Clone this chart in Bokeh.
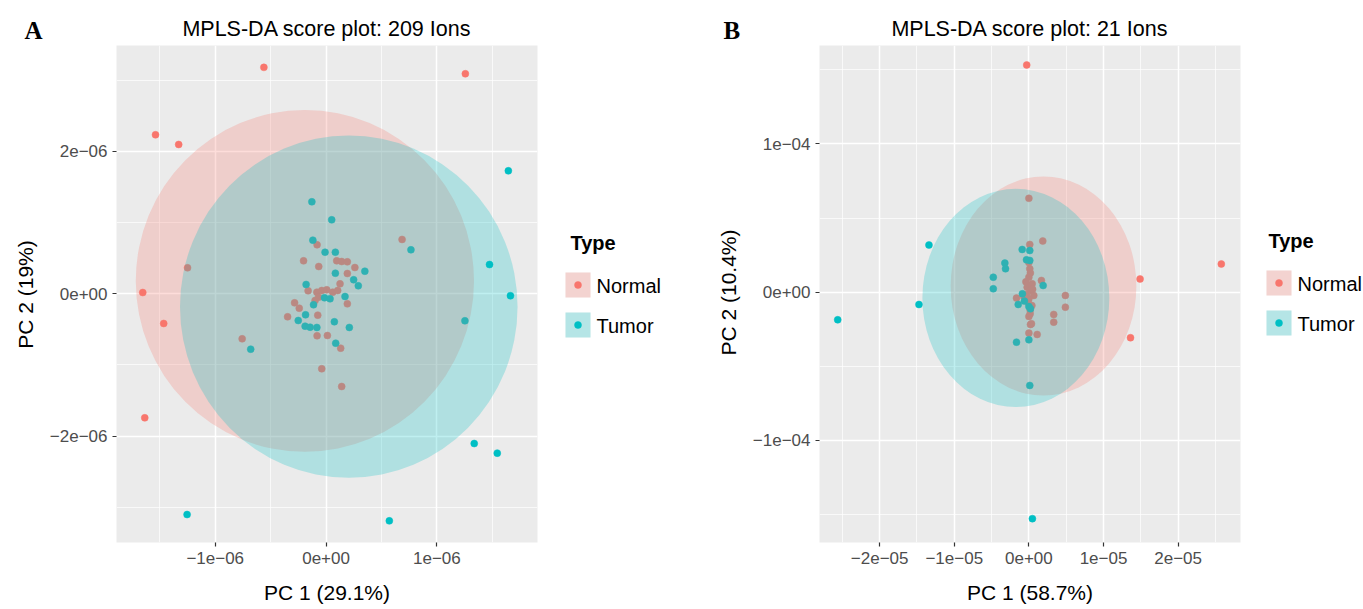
import math
from bokeh.plotting import figure
from bokeh.layouts import row
from bokeh.models import Range1d, FixedTicker, CustomJSTickFormatter
from bokeh.core.properties import value
from bokeh.embed import file_html
from bokeh.resources import INLINE

TYPES = ["Normal", "Tumor"]
COLORS = ["#F8766D", "#00BFC4"]

# ---------------- Panel A (values in units of 1e-6) ----------------
A_UNIT = 1e-6
A_NORMAL_X = [-0.561, 1.257, -1.539, -1.330, -1.250, -1.654, 0.686, -1.465, -1.636, -0.757, -0.039, 0.141,
              -0.081, -0.203, -0.066, 0.096, 0.141, 0.192, 0.260, 0.192, 0.126, -0.162, -0.083, -0.039,
              0.006, 0.060, 0.105, -0.068, -0.099, 0.192, -0.284, -0.242, -0.347, -0.075, -0.081, 0.012, 0.132]
A_NORMAL_Y = [3.18, 3.09, 2.233, 2.097, 0.365, 0.018, 0.763, -0.417, -1.742, -0.632, -1.053, -1.302,
              0.688, 0.463, 0.383, 0.463, 0.453, 0.449, 0.369, 0.285, 0.140, 0.042, 0.023, 0.046,
              0.056, 0.023, 0.046, -0.047, -0.094, -0.141, -0.127, -0.202, -0.323, -0.300, -0.590, -0.586, -0.764]
A_TUMOR_X = [1.645, 1.475, 1.664, -0.128, 0.051, 0.766, 1.253, 1.337, 1.545, -1.254, 0.571, -0.680,
             -0.119, -0.009, 0.084, 0.084, 0.350, 0.249, 0.291, -0.180, 0.171, 0.036, -0.014, -0.113,
             -0.185, -0.251, -0.189, -0.144, -0.083, 0.075, 0.210, 0.087]
A_TUMOR_Y = [1.727, 0.411, -0.028, 1.292, 1.039, 0.618, -0.379, -2.103, -2.238, -3.100, -3.189, -0.778,
             0.753, 0.584, 0.584, 0.289, 0.317, 0.197, 0.112, 0.131, -0.038, -0.070, -0.056, -0.154,
             -0.295, -0.375, -0.455, -0.469, -0.473, -0.393, -0.473, -0.694]
A_ELL_CX = [-0.191, 0.205]
A_ELL_CY = [0.18, -0.181]
A_ELL_W = [3.052, 3.046]
A_ELL_H = [4.80, 4.808]
A_X_TICKS = [-1e-6, 0.0, 1e-6]
A_X_TICK_LABELS = ["\u22121e\u221206", "0e+00", "1e\u221206"]
A_X_MINOR = [-1.5e-6, -0.5e-6, 0.5e-6, 1.5e-6]
A_Y_TICKS = [-2e-6, 0.0, 2e-6]
A_Y_TICK_LABELS = ["\u22122e\u221206", "0e+00", "2e\u221206"]
A_Y_MINOR = [-3e-6, -1e-6, 1e-6, 3e-6]

# ---------------- Panel B (x in units of 1e-5, y in units of 1e-4) ----------------
B_XUNIT = 1e-5
B_YUNIT = 1e-4
B_NORMAL_X = [-0.029, 0.0, 2.579, 1.49, 0.186, 0.012, 1.362, 0.489, 0.489, 0.333, 0.333, -0.166,
              0.168, 0.012, 0.0, 0.044, -0.023, 0.021, -0.032, 0.066, 0.0, -0.068, 0.0, 0.021,
              0.0, 0.111, 0.035, 0.017, 0.017, 0.0, 0.02, -0.04, 0.05, -0.01, 0.04]
B_NORMAL_Y = [1.532, 0.633, 0.190, 0.089, 0.345, 0.322, -0.307, -0.022, -0.101, -0.150, -0.202, -0.040,
              0.079, 0.158, 0.101, 0.057, 0.034, 0.011, -0.016, -0.022, -0.045, -0.029, -0.164, -0.218,
              -0.276, -0.285, -0.213, -0.146, -0.12, 0.20, 0.13, 0.07, 0.02, -0.07, -0.09]
B_TUMOR_X = [-1.339, -0.090, 0.012, -0.032, 0.012, -0.322, -0.313, -0.477, -0.477, 0.191, -2.562,
             -1.473, -0.143, 0.0, 0.021, -0.166, 0.0, 0.012, 0.047, -0.087, -0.06]
B_TUMOR_Y = [0.318, 0.288, 0.281, 0.218, 0.214, 0.196, 0.158, 0.101, 0.023, 0.045, -0.186,
             -0.083, -0.083, -0.096, -0.112, -0.337, -0.321, -0.629, -1.527, -0.011, -0.06]
B_ELL_CX = [0.196, -0.1745]
B_ELL_CY = [0.0415, -0.039]
B_ELL_W = [2.488, 2.505]
B_ELL_H = [1.477, 1.472]
B_X_TICKS = [-2e-5, -1e-5, 0.0, 1e-5, 2e-5]
B_X_TICK_LABELS = ["\u22122e\u221205", "\u22121e\u221205", "0e+00", "1e\u221205", "2e\u221205"]
B_X_MINOR = [-2.5e-5, -1.5e-5, -0.5e-5, 0.5e-5, 1.5e-5, 2.5e-5]
B_Y_TICKS = [-1e-4, 0.0, 1e-4]
B_Y_TICK_LABELS = ["\u22121e\u221204", "0e+00", "1e\u221204"]
B_Y_MINOR = [-1.5e-4, -0.5e-4, 0.5e-4, 1.5e-4]

H = 609
TOP, BOTTOM = 45, 67          # common frame borders (frames of a row are aligned)
FONT = "Liberation Sans"

FMT_CODE = """
let m = 0;
for (let i = 0; i < tvals.length; i++) { m = Math.max(m, Math.abs(tvals[i])); }
for (let i = 0; i < tvals.length; i++) {
  if (Math.abs(tick - tvals[i]) <= 1e-9 * m) return tlabs[i];
}
return "";
"""


def make_panel(title, xlabel, series, ell, xr, yr, xt, xtl, xm, yt, ytl, ym, width, bl, br):
    p = figure(width=width, height=H, x_range=Range1d(*xr), y_range=Range1d(*yr),
               output_backend="svg", toolbar_location=None,
               min_border_left=bl, min_border_right=br, min_border_top=TOP, min_border_bottom=BOTTOM)
    p.background_fill_color = "#EBEBEB"
    p.border_fill_color = "white"
    p.outline_line_color = None

    for i, (xs, ys) in enumerate(series):
        p.scatter(xs, ys, size=7, fill_color=COLORS[i], line_color=COLORS[i], line_width=0.5)
    cx, cy, w, h = ell
    for i in range(len(TYPES)):
        p.ellipse(x=[cx[i]], y=[cy[i]], width=[w[i]], height=[h[i]],
                  fill_color=COLORS[i], fill_alpha=0.25, line_color=None)

    p.xaxis.ticker = FixedTicker(ticks=xt, minor_ticks=xm)
    p.yaxis.ticker = FixedTicker(ticks=yt, minor_ticks=ym)
    p.xaxis.formatter = CustomJSTickFormatter(args=dict(tvals=xt, tlabs=xtl), code=FMT_CODE)
    p.yaxis.formatter = CustomJSTickFormatter(args=dict(tvals=yt, tlabs=ytl), code=FMT_CODE)
    for ax in (p.xaxis[0], p.yaxis[0]):
        ax.axis_line_color = None
        ax.major_tick_line_color = "#333333"
        ax.major_tick_line_width = 1.2
        ax.major_tick_out = 4
        ax.major_tick_in = 0
        ax.minor_tick_line_color = None
        ax.major_label_text_font = FONT
        ax.major_label_text_font_size = "17px"
        ax.major_label_text_color = "#4D4D4D"
        ax.major_label_standoff = 5
        ax.axis_label_text_font = FONT
        ax.axis_label_text_font_size = "21px"
        ax.axis_label_text_font_style = "normal"
        ax.axis_label_text_color = "black"
    p.xaxis.axis_label = xlabel
    p.xaxis.axis_label_standoff = 14

    for g in (p.xgrid[0], p.ygrid[0]):
        g.grid_line_color = "white"
        g.grid_line_width = 1.5
        g.minor_grid_line_color = "white"
        g.minor_grid_line_width = 0.7

    p.title.text = title
    p.title.text_font = FONT
    p.title.text_font_size = "21.5px"
    p.title.text_font_style = "normal"
    p.title.text_color = "black"
    p.title.align = "center"
    p.title.standoff = 10
    return p


def make_strip(x0, width, letter, letter_offset, ylabel, ylabel_xy, legend=None):
    """Side strip: panel letter (as title), rotated y-axis title and optional legend."""
    q = figure(width=width, height=H, x_range=Range1d(x0, x0 + width),
               y_range=Range1d(H - BOTTOM, TOP),
               output_backend="svg", toolbar_location=None,
               x_axis_location=None, y_axis_location=None,
               min_border_left=0, min_border_right=0, min_border_top=TOP, min_border_bottom=BOTTOM)
    q.grid.visible = False
    q.outline_line_color = None
    q.background_fill_color = "white"
    q.border_fill_color = "white"
    q.title.text = letter
    q.title.text_font = "Liberation Serif"
    q.title.text_font_style = "bold"
    q.title.text_font_size = "25px"
    q.title.text_color = "black"
    q.title.align = "left"
    q.title.offset = letter_offset
    q.title.standoff = 3
    q.text(x=[ylabel_xy[0]], y=[ylabel_xy[1]], text=[ylabel], angle=math.pi / 2,
           text_font=value(FONT), text_font_size="21px", text_align="center",
           text_baseline="middle", text_color="black")
    if legend is not None:
        title_x, box_x, box_top, text_x = legend
        n = len(TYPES)
        q.text(x=[title_x], y=[box_top - 30], text=["Type"], text_font=value(FONT),
               text_font_style="bold", text_font_size="20px", text_baseline="middle",
               text_align="left", text_color="black")
        tops = [box_top + 40 * i for i in range(n)]
        q.quad(left=[box_x] * n, right=[box_x + 25] * n, top=tops,
               bottom=[t + 25 for t in tops], fill_color="#F2F2F2", line_color=None)
        q.quad(left=[box_x] * n, right=[box_x + 25] * n, top=tops,
               bottom=[t + 25 for t in tops], fill_color=COLORS, fill_alpha=0.25, line_color=None)
        q.scatter(x=[box_x + 12.5] * n, y=[t + 12.5 for t in tops], size=7,
                  fill_color=COLORS, line_color=COLORS, line_width=0.5)
        q.text(x=[text_x] * n, y=[t + 13 for t in tops], text=TYPES, text_font=value(FONT),
               text_font_size="20px", text_baseline="middle", text_align="left", text_color="black")
    return q


def make_legend_only(x0, width, legend):
    return make_strip(x0, width, "", 0, "", (x0, 300), legend)


strip_a = make_strip(0, 46, "A", 24, "PC 2 (19%)", (25, 294))

pa = make_panel(
    "MPLS-DA score plot: 209 Ions", "PC 1 (29.1%)",
    [([v * A_UNIT for v in A_NORMAL_X], [v * A_UNIT for v in A_NORMAL_Y]),
     ([v * A_UNIT for v in A_TUMOR_X], [v * A_UNIT for v in A_TUMOR_Y])],
    ([v * A_UNIT for v in A_ELL_CX], [v * A_UNIT for v in A_ELL_CY],
     [v * A_UNIT for v in A_ELL_W], [v * A_UNIT for v in A_ELL_H]),
    (-1.891e-6, 1.908e-6), (-3.493e-6, 3.487e-6),
    A_X_TICKS, A_X_TICK_LABELS, A_X_MINOR, A_Y_TICKS, A_Y_TICK_LABELS, A_Y_MINOR,
    514, 68, 23)

strip_mid = make_strip(560, 184, "B", 163, "PC 2 (10.4%)", (728, 292), legend=(570, 565, 272, 596))

pb = make_panel(
    "MPLS-DA score plot: 21 Ions", "PC 1 (58.7%)",
    [([v * B_XUNIT for v in B_NORMAL_X], [v * B_YUNIT for v in B_NORMAL_Y]),
     ([v * B_XUNIT for v in B_TUMOR_X], [v * B_YUNIT for v in B_TUMOR_Y])],
    ([v * B_XUNIT for v in B_ELL_CX], [v * B_YUNIT for v in B_ELL_CY],
     [v * B_XUNIT for v in B_ELL_W], [v * B_YUNIT for v in B_ELL_H]),
    (-2.806e-5, 2.836e-5), (-1.688e-4, 1.6635e-4),
    B_X_TICKS, B_X_TICK_LABELS, B_X_MINOR, B_Y_TICKS, B_Y_TICK_LABELS, B_Y_MINOR,
    511, 75, 15)

leg_b = make_legend_only(1255, 108, (1268, 1266, 270, 1297))

layout = row(strip_a, pa, strip_mid, pb, leg_b)
open("out.html", "w").write(file_html(layout, INLINE))
